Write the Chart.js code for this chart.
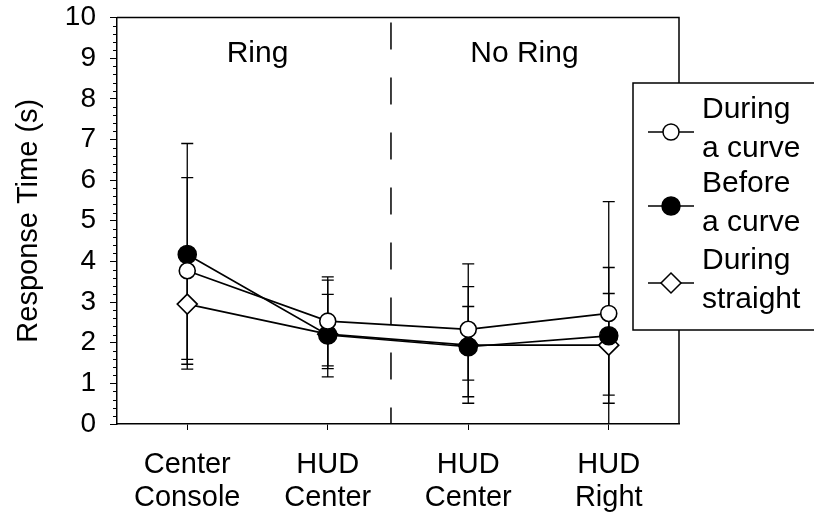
<!DOCTYPE html>
<html>
<head>
<meta charset="utf-8">
<script src="https://cdn.jsdelivr.net/npm/chart.js@4.4.1/dist/chart.umd.min.js"></script>
<style>
    html, body { margin: 0; padding: 0; background: #fff; }
    #wrap { width: 814px; height: 519px; }
</style>
</head>
<body>
<div id="wrap"><canvas id="rtChart" width="814" height="519"></canvas></div>
<script>
const categories = [['Center', 'Console'], ['HUD', 'Center'], ['HUD', 'Center'], ['HUD', 'Right']];
const yTicks = [0, 1, 2, 3, 4, 5, 6, 7, 8, 9, 10];

const duringCurve = [3.77, 2.53, 2.33, 2.72];
const duringCurveHi = [6.06, 3.62, 3.94, 5.47];
const duringCurveLo = [1.47, 1.43, 0.67, -0.03];

const beforeCurve = [4.17, 2.19, 1.90, 2.17];
const beforeCurveHi = [6.90, 3.19, 3.38, 3.85];
const beforeCurveLo = [1.35, 1.16, 0.51, 0.51];

const duringStraight = [2.95, 2.21, 1.94, 1.94];
const duringStraightHi = [4.31, 3.54, 2.89, 3.21];
const duringStraightLo = [1.59, 1.36, 1.08, 0.71];

const sectionLabels = ['Ring', 'No Ring'];
const FONT = '"Liberation Sans", Arial, Helvetica, sans-serif';

document.addEventListener('DOMContentLoaded', function() {
    const ctx = document.getElementById('rtChart').getContext('2d');

    // error bars, under the markers
    const errorBars = {
        id: 'errorBars',
        beforeDatasetsDraw(chart) {
            const c = chart.ctx;
            const y = chart.scales.y;
            const area = chart.chartArea;
            c.save();
            c.beginPath();
            c.rect(area.left, area.top, area.right - area.left, area.bottom - area.top);
            c.clip();
            c.strokeStyle = '#000';
            c.lineWidth = 1.3;
            chart.data.datasets.forEach((ds, i) => {
                const meta = chart.getDatasetMeta(i);
                meta.data.forEach((pt, j) => {
                    const top = y.getPixelForValue(ds.hi[j]);
                    const bot = y.getPixelForValue(ds.lo[j]);
                    c.beginPath();
                    c.moveTo(pt.x, top);
                    c.lineTo(pt.x, bot);
                    c.moveTo(pt.x - 6, top);
                    c.lineTo(pt.x + 6, top);
                    c.moveTo(pt.x - 6, bot);
                    c.lineTo(pt.x + 6, bot);
                    c.stroke();
                });
            });
            c.restore();
        }
    };

    const decorations = {
        id: 'decorations',
        beforeDatasetsDraw(chart) {
            const c = chart.ctx;
            const x = chart.scales.x;
            const y = chart.scales.y;
            const area = chart.chartArea;
            c.save();
            // dashed divider between the two groups
            const dx = x.getPixelForValue(1.45);
            c.strokeStyle = '#000';
            c.lineWidth = 1.5;
            c.setLineDash([27, 28]);
            c.beginPath();
            c.moveTo(dx, area.top + 5);
            c.lineTo(dx, area.bottom);
            c.stroke();
            c.setLineDash([]);
            c.fillStyle = '#000';
            c.font = '30px ' + FONT;
            c.textAlign = 'center';
            c.textBaseline = 'middle';
            c.fillText(sectionLabels[0], x.getPixelForValue(0.5), y.getPixelForValue(9.1));
            c.fillText(sectionLabels[1], x.getPixelForValue(2.4), y.getPixelForValue(9.1));
            c.restore();
        },
        afterDraw(chart) {
            const c = chart.ctx;
            const y = chart.scales.y;
            const area = chart.chartArea;
            c.save();
            c.strokeStyle = '#000';
            c.lineWidth = 1.5;
            c.beginPath();
            c.moveTo(area.left, area.top);
            c.lineTo(area.right, area.top);
            c.lineTo(area.right, area.bottom);
            c.stroke();
            // minor ticks every 0.2
            c.lineWidth = 1;
            for (let i = 0; i <= 50; i++) {
                if (i % 5 === 0) continue;
                const py = Math.round(y.getPixelForValue(i / 5)) + 0.5;
                c.beginPath();
                c.moveTo(area.left - 4, py);
                c.lineTo(area.left, py);
                c.stroke();
            }

            // legend box
            const bx = 633, by = 83, bw = 200, bh = 247;
            c.fillStyle = '#fff';
            c.fillRect(bx, by, bw, bh);
            c.lineWidth = 1.5;
            c.strokeRect(bx, by, bw, bh);
            const rows = [132, 206, 283];
            c.font = '30px ' + FONT;
            c.textAlign = 'left';
            c.textBaseline = 'middle';
            chart.data.datasets.forEach((ds, i) => {
                const my = rows[i];
                c.strokeStyle = '#000';
                c.lineWidth = 1.5;
                c.beginPath();
                c.moveTo(648, my);
                c.lineTo(694, my);
                c.stroke();
                c.fillStyle = ds.pointBackgroundColor;
                c.beginPath();
                if (ds.pointStyle === 'rectRot') {
                    const r = ds.pointRadius;
                    c.moveTo(671, my - r);
                    c.lineTo(671 + r, my);
                    c.lineTo(671, my + r);
                    c.lineTo(671 - r, my);
                    c.closePath();
                } else {
                    c.arc(671, my, ds.pointRadius, 0, Math.PI * 2);
                }
                c.fill();
                c.stroke();
                c.fillStyle = '#000';
                c.fillText(ds.label[0], 702, my - 22);
                c.fillText(ds.label[1], 702, my + 17);
            });
            c.restore();
        }
    };

    const chartConfig = {
        type: 'line',
        data: {
            labels: categories,
            datasets: [{
                label: ['During', 'a curve'],
                data: duringCurve,
                hi: duringCurveHi,
                lo: duringCurveLo,
                borderColor: '#000',
                borderWidth: 1.7,
                pointStyle: 'circle',
                pointRadius: 8,
                pointBackgroundColor: '#fff',
                pointBorderColor: '#000',
                pointBorderWidth: 1.6
            }, {
                label: ['Before', 'a curve'],
                data: beforeCurve,
                hi: beforeCurveHi,
                lo: beforeCurveLo,
                borderColor: '#000',
                borderWidth: 1.7,
                pointStyle: 'circle',
                pointRadius: 9,
                pointBackgroundColor: '#000',
                pointBorderColor: '#000',
                pointBorderWidth: 1.6
            }, {
                label: ['During', 'straight'],
                data: duringStraight,
                hi: duringStraightHi,
                lo: duringStraightLo,
                borderColor: '#000',
                borderWidth: 1.7,
                pointStyle: 'rectRot',
                pointRadius: 10,
                pointBackgroundColor: '#fff',
                pointBorderColor: '#000',
                pointBorderWidth: 1.6
            }]
        },
        options: {
            responsive: false,
            animation: false,
            events: [],
            layout: {
                padding: { top: 17.5, right: 135, left: 0, bottom: 0 }
            },
            plugins: {
                legend: { display: false },
                tooltip: { enabled: false }
            },
            scales: {
                x: {
                    type: 'category',
                    offset: true,
                    afterFit(scale) {
                        scale.height = 95;
                        scale.paddingLeft = 0;
                        scale.paddingRight = 0;
                    },
                    grid: {
                        display: true,
                        drawOnChartArea: false,
                        tickLength: 6,
                        tickWidth: 1,
                        tickColor: '#000',
                        offset: false
                    },
                    border: { display: true, color: '#000', width: 1.5 },
                    ticks: {
                        color: '#000',
                        padding: 18,
                        maxRotation: 0,
                        autoSkip: false,
                        font: { family: FONT, size: 29, lineHeight: 1.16 }
                    }
                },
                y: {
                    min: 0,
                    max: 10,
                    afterFit(scale) {
                        scale.width = 117;
                        scale.paddingTop = 0;
                        scale.paddingBottom = 0;
                    },
                    afterBuildTicks(scale) { scale.ticks = yTicks.map(v => ({ value: v })); },
                    grid: {
                        display: true,
                        drawOnChartArea: false,
                        tickLength: 7,
                        tickWidth: 1,
                        tickColor: '#000'
                    },
                    border: { display: true, color: '#000', width: 1.5 },
                    ticks: {
                        color: '#000',
                        padding: 14,
                        font: { family: FONT, size: 28 }
                    },
                    title: {
                        display: true,
                        text: 'Response Time (s)',
                        color: '#000',
                        padding: { top: 12, bottom: 0 },
                        font: { family: FONT, size: 29 }
                    }
                }
            }
        },
        plugins: [decorations, errorBars]
    };

    new Chart(ctx, chartConfig);
});
</script>
</body>
</html>
